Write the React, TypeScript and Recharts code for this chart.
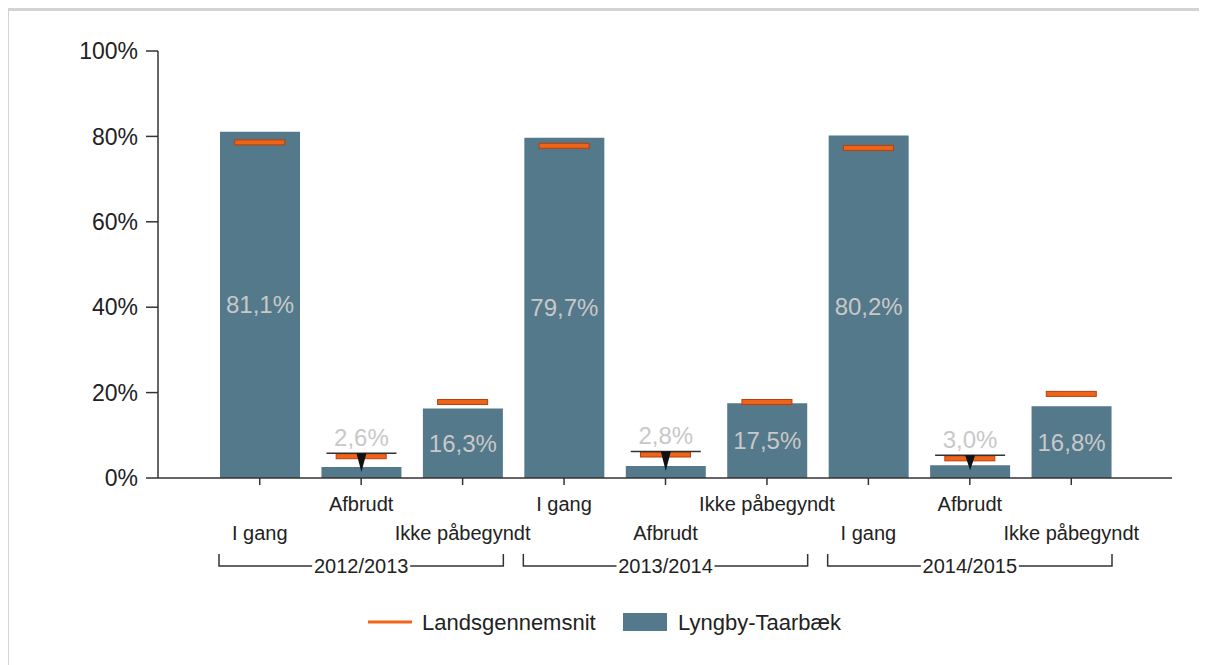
import React from 'react';
import { ComposedChart, Bar, Line, XAxis, YAxis, LabelList, Legend } from 'recharts';

const years = ['2012/2013', '2013/2014', '2014/2015'];
const statuses = ['I gang', 'Afbrudt', 'Ikke påbegyndt'];
const lyngby = [81.1, 2.6, 16.3, 79.7, 2.8, 17.5, 80.2, 3.0, 16.8];
const landsgennemsnit = [78.6, 5.1, 17.8, 77.8, 5.5, 17.8, 77.3, 4.6, 19.7];
const yTicks = [0, 20, 40, 60, 80, 100];

const BAR_COLOR = '#53798B';
const AVG_FILL = '#EE6418';
const AVG_STROKE = '#B8400C';
const LABEL_COLOR = '#C8C8C8';
const TEXT_COLOR = '#222';
const FONT = '"Liberation Sans", Arial, sans-serif';

const data = years.flatMap((year, yi) =>
    statuses.map((status, si) => {
        const i = yi * 3 + si;
        return {
            key: `${year}|${status}`,
            year,
            status,
            lyngby: lyngby[i],
            avg: landsgennemsnit[i],
        };
    })
);

const fmt = (v: number) => v.toFixed(1).replace('.', ',') + '%';

function CategoryTick(props: any) {
    const { x, y, payload, index } = props;
    const [year, status] = String(payload.value).split('|');
    const high = index % 2 === 1;
    const band = payload.offset ? payload.offset * 2 : 101.4;
    const halfW = band * 1.5 - 10;
    const gap = 49;
    return (
        <g>
            <text
                x={x}
                y={y + (high ? 26 : 55)}
                textAnchor="middle"
                fontSize={20}
                fill={TEXT_COLOR}
                fontFamily={FONT}
            >
                {status}
            </text>
            {index % 3 === 1 && (
                <g stroke="#333" strokeWidth={1.5} fill="none">
                    <polyline points={`${x - halfW},${y + 69} ${x - halfW},${y + 81} ${x - gap},${y + 81}`} />
                    <polyline points={`${x + gap},${y + 81} ${x + halfW},${y + 81} ${x + halfW},${y + 69}`} />
                    <text
                        x={x}
                        y={y + 88}
                        textAnchor="middle"
                        fontSize={20}
                        fill={TEXT_COLOR}
                        stroke="none"
                        fontFamily={FONT}
                    >
                        {year}
                    </text>
                </g>
            )}
        </g>
    );
}

function BarValueLabel(props: any) {
    const { x, y, width, height, value, index } = props;
    const cx = x + width / 2;
    if (value >= 10) {
        return (
            <text
                x={cx}
                y={y + height / 2}
                textAnchor="middle"
                dominantBaseline="central"
                fontSize={24}
                fill={LABEL_COLOR}
                fontFamily={FONT}
            >
                {fmt(value)}
            </text>
        );
    }
    // small bars: label sits above the national average marker with a pointer
    const perUnit = height / value;
    const avgY = y + height - landsgennemsnit[index] * perUnit;
    const lineY = Math.min(avgY - 3, y - 8);
    return (
        <g>
            <line x1={cx - 35} x2={cx + 35} y1={lineY} y2={lineY} stroke="#333" strokeWidth={1.5} />
            <polygon points={`${cx - 5},${lineY} ${cx + 5},${lineY} ${cx},${y + 5}`} fill="#111" />
            <text
                x={cx}
                y={lineY - 16}
                textAnchor="middle"
                dominantBaseline="central"
                fontSize={24}
                fill={LABEL_COLOR}
                fontFamily={FONT}
            >
                {fmt(value)}
            </text>
        </g>
    );
}

function AvgMarker(props: any) {
    const { cx, cy, index } = props;
    if (cx == null || cy == null) return <g key={index} />;
    return (
        <rect
            key={index}
            x={cx - 25}
            y={cy - 2.5}
            width={50}
            height={5}
            fill={AVG_FILL}
            stroke={AVG_STROKE}
            strokeWidth={1}
        />
    );
}

function LegendContent() {
    return (
        <svg width={1190} height={40} style={{ display: 'block' }}>
            <line x1={360} x2={404} y1={14} y2={14} stroke={AVG_FILL} strokeWidth={3} />
            <text x={414} y={14} dominantBaseline="central" fontSize={22} fill={TEXT_COLOR} fontFamily={FONT}>
                Landsgennemsnit
            </text>
            <rect x={615} y={5} width={44} height={18} fill={BAR_COLOR} />
            <text x={670} y={14} dominantBaseline="central" fontSize={22} fill={TEXT_COLOR} fontFamily={FONT}>
                Lyngby-Taarbæk
            </text>
        </svg>
    );
}

export default function App() {
    return (
        <div style={{ position: 'relative', width: 1190, height: 657, fontFamily: FONT }}>
            <div
                style={{
                    position: 'absolute',
                    left: -2,
                    top: 0,
                    width: 1215,
                    height: 657,
                    borderLeft: '3px solid #D3D3D3',
                    borderTop: '3px solid #D3D3D3',
                    boxSizing: 'border-box',
                }}
            />
            <div style={{ position: 'absolute', left: 0, top: 0 }}>
                <ComposedChart
                    width={1190}
                    height={650}
                    data={data}
                    margin={{ top: 43, right: 26, bottom: 80, left: 0 }}
                >
                    <XAxis
                        dataKey="key"
                        height={100}
                        padding={{ left: 51, right: 50 }}
                        interval={0}
                        tickSize={7}
                        tickMargin={0}
                        tick={<CategoryTick />}
                        axisLine={{ stroke: '#333', strokeWidth: 1.5 }}
                        tickLine={{ stroke: '#333', strokeWidth: 1.5 }}
                    />
                    <YAxis
                        width={150}
                        domain={[0, 100]}
                        ticks={yTicks}
                        tickFormatter={(v: number) => `${v}%`}
                        tickSize={12}
                        tickMargin={8}
                        tick={{ fontSize: 23, fill: TEXT_COLOR, fontFamily: FONT }}
                        axisLine={{ stroke: '#333', strokeWidth: 1.5 }}
                        tickLine={{ stroke: '#333', strokeWidth: 1.5 }}
                    />
                    <Legend
                        layout="horizontal"
                        verticalAlign="middle"
                        align="center"
                        content={<LegendContent />}
                        wrapperStyle={{ top: 600, left: 0, width: 1190 }}
                    />
                    <Bar dataKey="lyngby" name="Lyngby-Taarbæk" fill={BAR_COLOR} barSize={80} isAnimationActive={false}>
                        <LabelList dataKey="lyngby" content={<BarValueLabel />} />
                    </Bar>
                    <Line
                        dataKey="avg"
                        name="Landsgennemsnit"
                        stroke="none"
                        dot={(p: any) => <AvgMarker {...p} />}
                        activeDot={false}
                        isAnimationActive={false}
                    />
                </ComposedChart>
            </div>
        </div>
    );
}
